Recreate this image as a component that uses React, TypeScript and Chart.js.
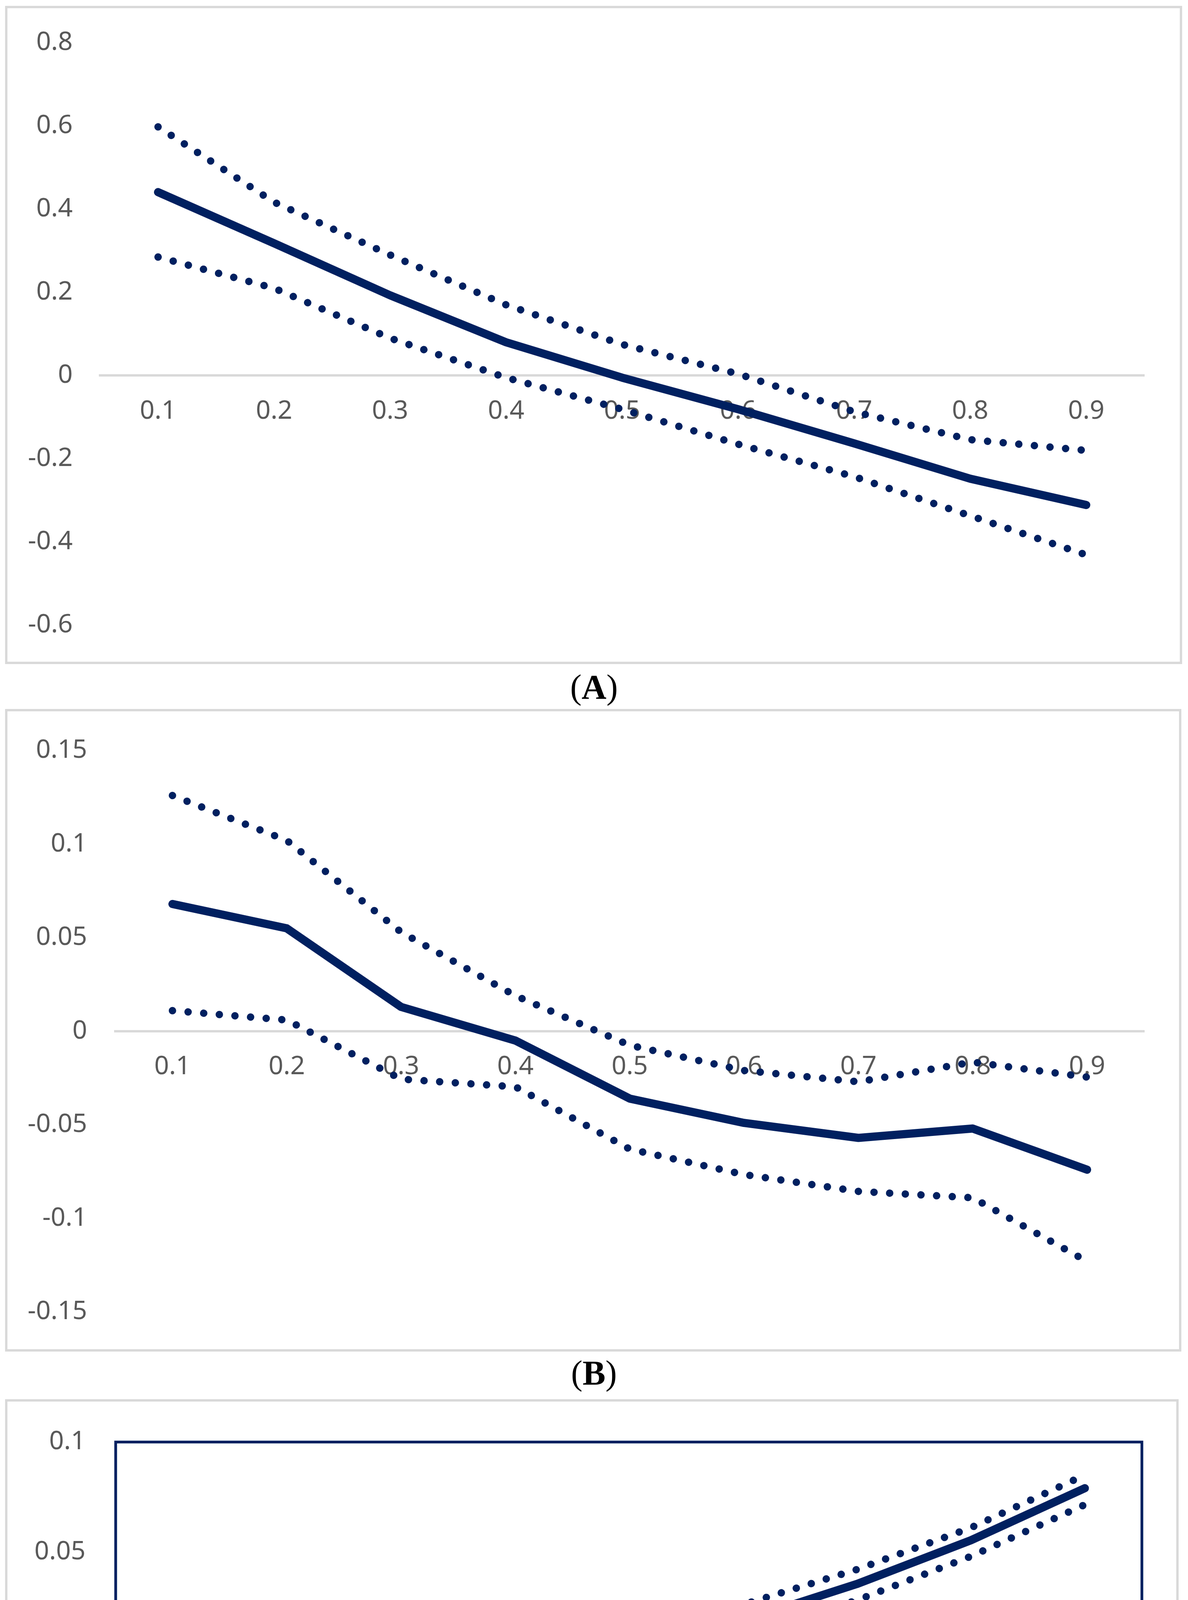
import React, { useEffect, useRef } from 'react';
import { Chart, registerables } from 'chart.js';

Chart.register(...registerables);

// ---------------- data ----------------
const CATEGORIES = ['0.1', '0.2', '0.3', '0.4', '0.5', '0.6', '0.7', '0.8', '0.9'];

const A_ESTIMATE = [0.441, 0.318, 0.193, 0.08, -0.005, -0.081, -0.163, -0.248, -0.311];
const A_UPPER = [0.598, 0.417, 0.29, 0.17, 0.075, 0.004, -0.087, -0.154, -0.18];
const A_LOWER = [0.285, 0.21, 0.09, -0.005, -0.081, -0.165, -0.243, -0.337, -0.431];
const A_Y_TICKS = [-0.6, -0.4, -0.2, 0, 0.2, 0.4, 0.6, 0.8];

const B_ESTIMATE = [0.068, 0.055, 0.013, -0.005, -0.036, -0.049, -0.057, -0.052, -0.074];
const B_UPPER = [0.126, 0.102, 0.053, 0.019, -0.0075, -0.021, -0.027, -0.0165, -0.0245];
const B_LOWER = [0.011, 0.006, -0.0256, -0.0297, -0.063, -0.0766, -0.0856, -0.089, -0.123];
const B_Y_TICKS = [-0.15, -0.1, -0.05, 0, 0.05, 0.1, 0.15];

const C_ESTIMATE = [-0.0876, -0.0535, -0.029, -0.0128, 0.003, 0.0187, 0.0354, 0.0553, 0.079];
const C_UPPER = [-0.078, -0.045, -0.022, -0.0057, 0.0106, 0.026, 0.042, 0.061, 0.085];
const C_LOWER = [-0.096, -0.061, -0.034, -0.019, -0.0026, 0.0116, 0.028, 0.048, 0.0715];
const C_Y_TICKS = [-0.15, -0.1, -0.05, 0, 0.05, 0.1];

const CAPTIONS = ['A', 'B', 'C'];

// ---------------- style / layout ----------------
const NAVY = '#002060';
const GRAY_LINE = '#d9d9d9';
const TICK_COLOR = '#595959';
const TICK_FONT = { family: "'Noto Sans', 'Open Sans', sans-serif", size: 66 };
const PAGE_W = 3040;

type PanelGeom = {
  frameTop: number; frameBottom: number; frameRight: number;
  canvasTop: number; canvasHeight: number;
  plotLeft: number; plotRight: number; plotTop: number; plotBottom: number;
  yPad: number; captionTop: number; boxed: boolean;
};

const GEOMS: PanelGeom[] = [
  { frameTop: 15, frameBottom: 1700, frameRight: 3025, canvasTop: 0, canvasHeight: 1710,
    plotLeft: 256, plotRight: 2928, plotTop: 107, plotBottom: 1607, yPad: 70, captionTop: 1715, boxed: false },
  { frameTop: 1815, frameBottom: 3460, frameRight: 3023, canvasTop: 1810, canvasHeight: 1660,
    plotLeft: 295, plotRight: 2928, plotTop: 1901, plotBottom: 3376, yPad: 72, captionTop: 3471, boxed: false },
  { frameTop: 3582, frameBottom: 5207, frameRight: 3016, canvasTop: 3575, canvasHeight: 1640,
    plotLeft: 296, plotRight: 2922, plotTop: 3668, plotBottom: 5120, yPad: 77, captionTop: 5230, boxed: true },
];

const SERIES = [
  { estimate: A_ESTIMATE, upper: A_UPPER, lower: A_LOWER, yTicks: A_Y_TICKS },
  { estimate: B_ESTIMATE, upper: B_UPPER, lower: B_LOWER, yTicks: B_Y_TICKS },
  { estimate: C_ESTIMATE, upper: C_UPPER, lower: C_LOWER, yTicks: C_Y_TICKS },
];

const solid = (data: number[]) => ({
  data, borderColor: NAVY, backgroundColor: NAVY, borderWidth: 21,
  borderCapStyle: 'round', borderJoinStyle: 'round', pointRadius: 0, tension: 0, fill: false,
});
const dotted = (data: number[]) => ({
  data, borderColor: NAVY, backgroundColor: NAVY, borderWidth: 19, borderDash: [0.1, 40],
  borderCapStyle: 'round', borderJoinStyle: 'round', pointRadius: 0, tension: 0, fill: false,
});

const boxPlugin = {
  id: 'plotBox',
  afterDatasetsDraw(chart: any) {
    const { ctx, chartArea: a } = chart;
    ctx.save();
    ctx.strokeStyle = NAVY;
    ctx.lineWidth = 7;
    ctx.strokeRect(a.left, a.top, a.right - a.left, a.bottom - a.top);
    ctx.restore();
  },
};

const fmt = (v: number) => String(Number(v.toFixed(4)));

function Panel({ geom, series }: { geom: PanelGeom; series: typeof SERIES[number] }) {
  const ref = useRef<HTMLCanvasElement | null>(null);
  useEffect(() => {
    if (!ref.current) return;
    const ticks = series.yTicks;
    const chart = new Chart(ref.current, {
      type: 'line',
      data: {
        labels: CATEGORIES,
        datasets: [solid(series.estimate), dotted(series.upper), dotted(series.lower)] as any,
      },
      options: {
        responsive: false,
        maintainAspectRatio: false,
        animation: false,
        devicePixelRatio: 1,
        layout: {
          padding: {
            left: 0,
            right: PAGE_W - geom.plotRight,
            top: geom.plotTop - geom.canvasTop,
            bottom: geom.canvasTop + geom.canvasHeight - geom.plotBottom,
          },
        },
        plugins: { legend: { display: false }, tooltip: { enabled: false }, title: { display: false } },
        scales: {
          x: {
            type: 'category',
            offset: true,
            position: { y: 0 } as any,
            grid: { display: false, drawTicks: false },
            border: { display: true, color: GRAY_LINE, width: 6 },
            ticks: { color: TICK_COLOR, font: TICK_FONT, padding: 52, maxRotation: 0, autoSkip: false },
            afterFit: (s: any) => { s.height = 0; },
          },
          y: {
            type: 'linear',
            min: Math.min(...ticks),
            max: Math.max(...ticks),
            grid: { display: false, drawTicks: false },
            border: { display: false },
            ticks: { color: TICK_COLOR, font: TICK_FONT, padding: geom.yPad, callback: (v: any) => fmt(Number(v)) },
            afterBuildTicks: (s: any) => { s.ticks = ticks.map((v) => ({ value: v })); },
            afterFit: (s: any) => { s.width = geom.plotLeft; },
          },
        },
      } as any,
      plugins: geom.boxed ? [boxPlugin] : [],
    });
    return () => chart.destroy();
  }, [geom, series]);

  return (
    <canvas
      ref={ref}
      width={PAGE_W}
      height={geom.canvasHeight}
      style={{ position: 'absolute', left: 0, top: geom.canvasTop, width: PAGE_W, height: geom.canvasHeight }}
    />
  );
}

export default function App() {
  return (
    <div style={{ position: 'absolute', left: 0, top: 0, width: PAGE_W, height: 5338, background: '#ffffff', overflow: 'hidden' }}>
      {GEOMS.map((g, i) => (
        <React.Fragment key={i}>
          <div
            style={{
              position: 'absolute', left: 13, top: g.frameTop, width: g.frameRight - 13,
              height: g.frameBottom - g.frameTop, border: `6px solid ${GRAY_LINE}`, boxSizing: 'border-box',
            }}
          />
          <Panel geom={g} series={SERIES[i]} />
          <div
            style={{
              position: 'absolute', left: 0, top: g.captionTop, width: PAGE_W, textAlign: 'center',
              fontFamily: "'Liberation Serif', 'DejaVu Serif', serif", fontSize: 88, lineHeight: '88px', color: '#000',
            }}
          >
            (<b>{CAPTIONS[i]}</b>)
          </div>
        </React.Fragment>
      ))}
    </div>
  );
}
